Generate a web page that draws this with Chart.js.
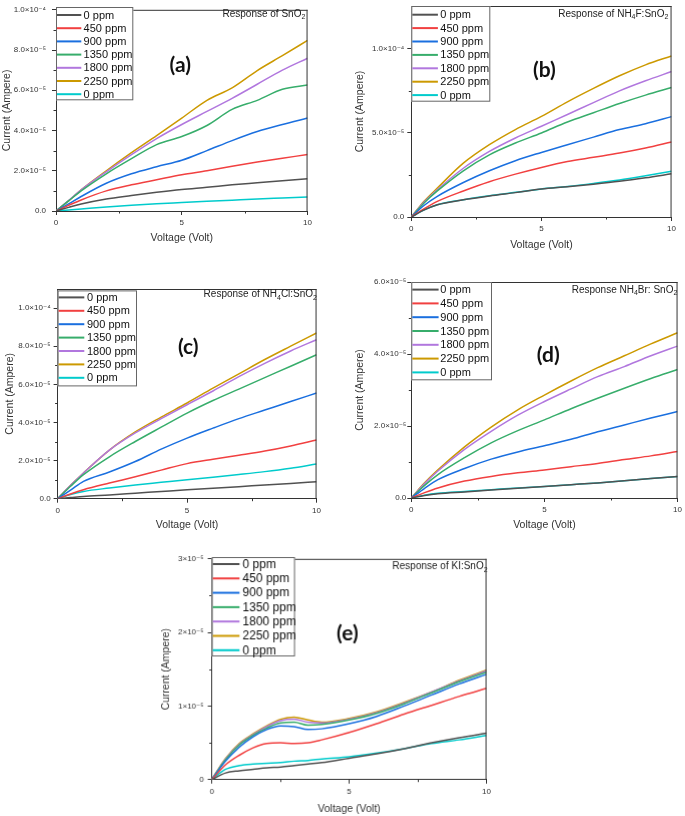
<!DOCTYPE html>
<html>
<head>
<meta charset="utf-8">
<script src="https://cdn.jsdelivr.net/npm/chart.js@4.4.1/dist/chart.umd.min.js"></script>
<style>
html, body { margin: 0; padding: 0; background: #fff; width: 685px; height: 816px; overflow: hidden; position: relative; }
canvas { position: absolute; }
</style>
</head>
<body>
<script>
// voltage sweep (Volt)
var volts = [0, 0.5, 1, 2, 3, 4, 5, 6, 7, 8, 9, 10];
var voltsKI = [0, 0.5, 1, 1.5, 2, 2.5, 3, 3.5, 4, 5, 6, 7, 8, 9, 10];

var seriesNames = ['0 ppm', '450 ppm', '900 ppm', '1350 ppm', '1800 ppm', '2250 ppm', '0 ppm'];
var seriesColors = ['#515151', '#F14040', '#1A6FDF', '#37AD6B', '#B177DE', '#CC9900', '#00CBCC'];

// currents, in units of 1e-5 A, one row per series (same order as seriesNames)
var curSnO2 = [
    [0, 0.18, 0.35, 0.60, 0.77, 0.93, 1.07, 1.18, 1.30, 1.40, 1.50, 1.60],
    [0, 0.28, 0.55, 1.00, 1.30, 1.55, 1.80, 2.00, 2.22, 2.43, 2.62, 2.81],
    [0, 0.35, 0.72, 1.38, 1.85, 2.20, 2.52, 3.00, 3.50, 3.95, 4.30, 4.62],
    [0, 0.50, 1.00, 1.85, 2.60, 3.30, 3.70, 4.25, 5.05, 5.50, 6.05, 6.26],
    [0, 0.52, 1.05, 1.95, 2.80, 3.60, 4.30, 4.95, 5.60, 6.30, 7.00, 7.59],
    [0, 0.50, 1.05, 2.00, 2.90, 3.75, 4.62, 5.50, 6.12, 6.98, 7.72, 8.48],
    [0, 0.05, 0.10, 0.20, 0.29, 0.36, 0.42, 0.48, 0.54, 0.60, 0.65, 0.70]
];
var curNH4F = [
    [0, 0.42, 0.73, 1.02, 1.25, 1.45, 1.66, 1.80, 1.95, 2.12, 2.33, 2.57],
    [0, 0.50, 0.93, 1.55, 2.10, 2.55, 2.95, 3.30, 3.55, 3.80, 4.10, 4.46],
    [0, 0.70, 1.23, 2.05, 2.75, 3.35, 3.84, 4.30, 4.75, 5.20, 5.55, 5.97],
    [0, 0.85, 1.55, 2.75, 3.70, 4.40, 5.00, 5.65, 6.20, 6.75, 7.25, 7.70],
    [0, 0.90, 1.62, 2.90, 3.90, 4.70, 5.40, 6.10, 6.80, 7.50, 8.10, 8.65],
    [0, 0.95, 1.72, 3.20, 4.30, 5.20, 5.98, 6.85, 7.65, 8.40, 9.05, 9.58],
    [0, 0.42, 0.73, 1.03, 1.27, 1.47, 1.67, 1.82, 2.00, 2.20, 2.45, 2.72]
];
var curNH4Cl = [
    [0, 0.06, 0.12, 0.20, 0.29, 0.38, 0.47, 0.55, 0.63, 0.72, 0.80, 0.89],
    [0, 0.25, 0.47, 0.82, 1.15, 1.50, 1.84, 2.07, 2.28, 2.50, 2.77, 3.08],
    [0, 0.45, 0.91, 1.40, 1.95, 2.60, 3.18, 3.70, 4.20, 4.65, 5.10, 5.54],
    [0, 0.65, 1.26, 2.20, 3.00, 3.75, 4.49, 5.15, 5.75, 6.35, 6.95, 7.55],
    [0, 0.70, 1.35, 2.55, 3.45, 4.20, 4.93, 5.65, 6.40, 7.10, 7.75, 8.34],
    [0, 0.70, 1.35, 2.55, 3.50, 4.28, 5.02, 5.80, 6.55, 7.30, 8.00, 8.69],
    [0, 0.22, 0.38, 0.56, 0.72, 0.86, 1.00, 1.13, 1.27, 1.42, 1.60, 1.82]
];
var curNH4Br = [
    [0, 0.07, 0.12, 0.17, 0.22, 0.27, 0.32, 0.37, 0.42, 0.48, 0.54, 0.60],
    [0, 0.15, 0.28, 0.47, 0.60, 0.70, 0.78, 0.87, 0.96, 1.07, 1.17, 1.29],
    [0, 0.27, 0.51, 0.82, 1.08, 1.28, 1.45, 1.63, 1.84, 2.03, 2.22, 2.40],
    [0, 0.35, 0.65, 1.12, 1.53, 1.87, 2.17, 2.48, 2.77, 3.05, 3.32, 3.57],
    [0, 0.40, 0.75, 1.35, 1.85, 2.30, 2.68, 3.03, 3.37, 3.65, 3.95, 4.22],
    [0, 0.42, 0.78, 1.42, 1.97, 2.45, 2.86, 3.25, 3.62, 3.95, 4.28, 4.59],
    [0, 0.08, 0.13, 0.18, 0.23, 0.28, 0.32, 0.37, 0.42, 0.48, 0.54, 0.60]
];
var curKI = [
    [0, 0.09, 0.12, 0.14, 0.16, 0.17, 0.19, 0.21, 0.23, 0.29, 0.35, 0.42, 0.50, 0.57, 0.63],
    [0, 0.20, 0.33, 0.43, 0.49, 0.50, 0.49, 0.50, 0.54, 0.64, 0.76, 0.89, 1.01, 1.13, 1.24],
    [0, 0.25, 0.44, 0.58, 0.68, 0.73, 0.72, 0.68, 0.69, 0.76, 0.86, 1.00, 1.15, 1.30, 1.43],
    [0, 0.27, 0.47, 0.60, 0.70, 0.77, 0.78, 0.74, 0.75, 0.81, 0.90, 1.03, 1.18, 1.33, 1.46],
    [0, 0.28, 0.48, 0.61, 0.72, 0.80, 0.82, 0.78, 0.77, 0.82, 0.91, 1.04, 1.19, 1.34, 1.48],
    [0, 0.285, 0.49, 0.62, 0.73, 0.82, 0.85, 0.81, 0.78, 0.83, 0.92, 1.05, 1.19, 1.35, 1.49],
    [0, 0.14, 0.19, 0.21, 0.22, 0.23, 0.25, 0.26, 0.28, 0.31, 0.36, 0.42, 0.49, 0.54, 0.60]
];

// tick values and labels
var xTicks = [0, 5, 10];
var yTicksA = [0, 2, 4, 6, 8, 10];
var yLabelsA = ['0.0', '2.0×10⁻⁵', '4.0×10⁻⁵', '6.0×10⁻⁵', '8.0×10⁻⁵', '1.0×10⁻⁴'];
var yTicksB = [0, 5, 10];
var yLabelsB = ['0.0', '5.0×10⁻⁵', '1.0×10⁻⁴'];
var yTicksD = [0, 2, 4, 6];
var yLabelsD = ['0.0', '2.0×10⁻⁵', '4.0×10⁻⁵', '6.0×10⁻⁵'];
var yTicksE = [0, 1, 2, 3];
var yLabelsE = ['0', '1×10⁻⁵', '2×10⁻⁵', '3×10⁻⁵'];

var FONT = "'Liberation Sans', 'DejaVu Sans', sans-serif";
var PAD_TOP = 8, PAD_RIGHT = 6;

function makePanel(p) {
    var ox = p.L - p.yW, oy = p.T - PAD_TOP;
    var cv = document.createElement('canvas');
    var w = p.R - p.L + p.yW + PAD_RIGHT;
    var h = PAD_TOP + p.B - p.T + p.xH;
    cv.width = w; cv.height = h;
    cv.style.left = ox + 'px'; cv.style.top = oy + 'px';
    cv.style.width = w + 'px'; cv.style.height = h + 'px';
    document.body.appendChild(cv);

    // frame, minor ticks, legend, title, panel letter
    var decor = {
        id: 'decor',
        afterDraw: function (chart) {
            var ctx = chart.ctx, a = chart.chartArea, x = chart.scales.x, y = chart.scales.y;
            ctx.save();
            ctx.strokeStyle = '#333';
            ctx.lineWidth = 1;
            ctx.beginPath();
            ctx.moveTo(a.left, a.top + 0.5); ctx.lineTo(a.right, a.top + 0.5);
            ctx.moveTo(a.right - 0.5, a.top); ctx.lineTo(a.right - 0.5, a.bottom);
            var i, px;
            for (i = 1; i < x.ticks.length; i++) {
                px = Math.round(x.getPixelForValue((x.ticks[i - 1].value + x.ticks[i].value) / 2)) + 0.5;
                ctx.moveTo(px, a.bottom); ctx.lineTo(px, a.bottom + 2.5);
            }
            for (i = 1; i < y.ticks.length; i++) {
                px = Math.round(y.getPixelForValue((y.ticks[i - 1].value + y.ticks[i].value) / 2)) + 0.5;
                ctx.moveTo(a.left, px); ctx.lineTo(a.left - 2.5, px);
            }
            ctx.stroke();

            // legend
            var lg = p.legend;
            var bx = p.L - ox, by = p.T + lg.top - oy;
            ctx.fillStyle = '#fff';
            ctx.fillRect(bx, by, lg.w, lg.h);
            ctx.strokeStyle = '#666';
            ctx.strokeRect(bx + 0.5, by + 0.5, lg.w - 1, lg.h - 1);
            ctx.font = lg.size + 'px ' + FONT;
            ctx.textBaseline = 'middle';
            ctx.textAlign = 'left';
            chart.data.datasets.forEach(function (ds, k) {
                var ry = p.T + lg.first + k * lg.row - oy;
                ctx.strokeStyle = ds.borderColor;
                ctx.lineWidth = 2;
                ctx.beginPath();
                ctx.moveTo(bx + 1, ry); ctx.lineTo(bx + 1 + lg.line, ry);
                ctx.stroke();
                ctx.fillStyle = '#111';
                ctx.fillText(ds.label, bx + lg.text, ry + 0.5);
            });

            // title with subscripts
            var parts = p.title.split(/_(\d)/);
            var big = '10px ' + FONT, small = '7px ' + FONT;
            var total = 0;
            parts.forEach(function (s, k) { ctx.font = k % 2 ? small : big; total += ctx.measureText(s).width; });
            var tx = p.titleX - ox - total, ty = p.titleY - oy;
            ctx.fillStyle = '#222';
            parts.forEach(function (s, k) {
                ctx.font = k % 2 ? small : big;
                ctx.fillText(s, tx, k % 2 ? ty + 3 : ty);
                tx += ctx.measureText(s).width;
            });

            // panel letter
            ctx.font = 'bold 21px Lato, ' + FONT;
            ctx.textAlign = 'center';
            ctx.fillStyle = '#111';
            ctx.fillText(p.letter, p.letterX - ox, p.letterY - oy);
            ctx.restore();
        }
    };

    new Chart(cv, {
        type: 'line',
        data: {
            datasets: p.rows.map(function (r, k) {
                return {
                    label: seriesNames[k],
                    data: r.map(function (v, i) { return { x: p.volts[i], y: v }; }),
                    borderColor: seriesColors[k],
                    backgroundColor: seriesColors[k],
                    borderWidth: 1.5,
                    pointRadius: 0,
                    fill: false,
                    cubicInterpolationMode: 'monotone'
                };
            })
        },
        options: {
            responsive: false,
            animation: false,
            events: [],
            layout: { padding: { top: PAD_TOP, right: PAD_RIGHT, left: 0, bottom: 0 } },
            plugins: { legend: { display: false }, tooltip: { enabled: false } },
            scales: {
                x: {
                    type: 'linear', min: 0, max: 10,
                    afterBuildTicks: function (s) { s.ticks = xTicks.map(function (v) { return { value: v }; }); },
                    afterFit: function (s) { s.height = p.xH; },
                    ticks: { font: { family: FONT, size: 8 }, color: '#333', padding: 3, maxRotation: 0,
                        callback: function (v) { return String(v); } },
                    grid: { drawOnChartArea: false, tickLength: 4, tickColor: '#333' },
                    border: { color: '#333', width: 1 },
                    title: { display: true, text: 'Voltage (Volt)', color: '#333',
                        font: { family: FONT, size: 10.5 }, padding: { top: 0, bottom: 1 } }
                },
                y: {
                    type: 'linear', min: 0, max: p.yMax,
                    afterBuildTicks: function (s) { s.ticks = p.yTicks.map(function (v) { return { value: v }; }); },
                    afterFit: function (s) { s.width = p.yW; },
                    ticks: { font: { family: FONT, size: 8 }, color: '#333', padding: p.tickPad,
                        callback: function (v, i) { return p.yLabels[i]; } },
                    grid: { drawOnChartArea: false, tickLength: 4, tickColor: '#333' },
                    border: { color: '#333', width: 1 },
                    title: { display: true, text: 'Current (Ampere)', color: '#333',
                        font: { family: FONT, size: 10.5 }, padding: { top: 1, bottom: 0 } }
                }
            }
        },
        plugins: [decor]
    });
}

// (a)
makePanel({ L: 55.7, T: 6.7, R: 309.3, B: 211, yW: 56, xH: 34, yMax: 10, tickPad: 6,
    yTicks: yTicksA, yLabels: yLabelsA, rows: curSnO2, volts: volts,
    title: 'Response of SnO_2', titleX: 305, titleY: 14, letter: '(a)', letterX: 180, letterY: 65,
    legend: { top: 0, w: 77.3, h: 93.3, first: 8, row: 13.2, line: 24.3, text: 27.6, size: 11 } });
// (b)
makePanel({ L: 411, T: 6, R: 672.7, B: 217.3, yW: 58.3, xH: 35, yMax: 12.55, tickPad: 3,
    yTicks: yTicksB, yLabels: yLabelsB, rows: curNH4F, volts: volts,
    title: 'Response of NH_4F:SnO_2', titleX: 668, titleY: 14, letter: '(b)', letterX: 544, letterY: 70,
    legend: { top: 0, w: 79, h: 95.7, first: 8.7, row: 13.4, line: 25.6, text: 29, size: 11 } });
// (c)
makePanel({ L: 57.3, T: 289.3, R: 318.3, B: 499, yW: 54.6, xH: 33.3, yMax: 11, tickPad: 3,
    yTicks: yTicksA, yLabels: yLabelsA, rows: curNH4Cl, volts: volts,
    title: 'Response of NH_4Cl:SnO_2', titleX: 316.7, titleY: 295, letter: '(c)', letterX: 188, letterY: 348,
    legend: { top: 1.4, w: 79.4, h: 96, first: 8.4, row: 13.4, line: 25.7, text: 29.4, size: 11 } });
// (d)
makePanel({ L: 411, T: 281.7, R: 679, B: 498.3, yW: 58.3, xH: 34, yMax: 6, tickPad: 1,
    yTicks: yTicksD, yLabels: yLabelsD, rows: curNH4Br, volts: volts,
    title: 'Response NH_4Br: SnO_2', titleX: 677, titleY: 290, letter: '(d)', letterX: 548, letterY: 355,
    legend: { top: 0, w: 80.7, h: 98.3, first: 7.6, row: 13.8, line: 26.3, text: 29, size: 11 } });
// (e)
makePanel({ L: 212, T: 558.3, R: 488.3, B: 779.3, yW: 52.6, xH: 36.3, yMax: 3, tickPad: 4,
    yTicks: yTicksE, yLabels: yLabelsE, rows: curKI, volts: voltsKI,
    title: 'Response of KI:SnO_2', titleX: 487, titleY: 567, letter: '(e)', letterX: 347.3, letterY: 633.3,
    legend: { top: -1, w: 83, h: 99, first: 6, row: 14.3, line: 26.7, text: 30.7, size: 12 } });
</script>
</body>
</html>
